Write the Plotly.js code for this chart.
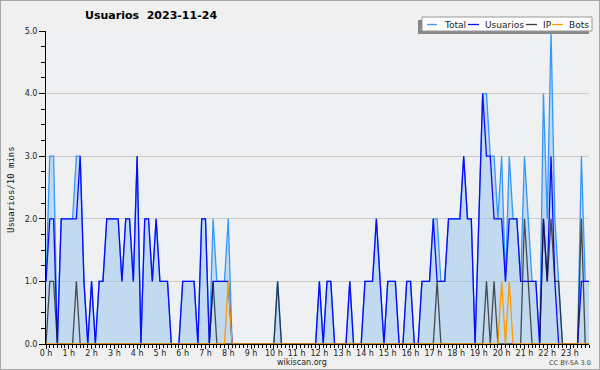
<!DOCTYPE html>
<html><head><meta charset="utf-8">
<script src="https://cdn.plot.ly/plotly-3.0.1.min.js"></script>
<style>html,body{margin:0;padding:0;background:#f0f0f0;}#chart{width:600px;height:370px;}</style>
</head><body><div id="chart"></div>
<script>
const hourLabels = ["0 h","1 h","2 h","3 h","4 h","5 h","6 h","7 h","8 h","9 h","10 h","11 h","12 h","13 h","14 h","15 h","16 h","17 h","18 h","19 h","20 h","21 h","22 h","23 h"];
const seriesNames = ["Total","Usuarios","IP","Bots"];
const usuarios = [1,2,2,0,2,2,2,2,2,3, 1,0,1,0,1,1,2,2,2,2, 1,2,2,1,3,0,2,2,1,2, 1,1,1,0,0,0,1,1,1,1, 0,2,2,0,1,1,1,1,1,0,
  0,0,0,0,0,0,0,0,0,0, 0,0,0,0,0,0,0,0,0,0, 0,0,1,0,1,1,0,0,0,0, 1,0,0,0,1,1,1,2,1,0, 1,1,1,0,0,1,1,0,0,1,
  1,1,2,1,1,1,2,2,2,2, 3,2,2,0,2,4,3,3,2,2, 2,1,2,2,2,1,1,1,1,1, 0,2,1,3,1,0,0,0,0,0, 0,1,1,1];
const ip = [0,1,1,0,0,0,0,0,1,0, 0,0,0,0,0,0,0,0,0,0, 0,0,0,0,0,0,0,0,0,0, 0,0,0,0,0,0,0,0,0,0, 0,0,0,0,1,0,0,0,0,0,
  0,0,0,0,0,0,0,0,0,0, 0,1,0,0,0,0,0,0,0,0, 0,0,0,0,0,0,0,0,0,0, 0,0,0,0,0,0,0,0,0,0, 0,0,0,0,0,0,0,0,0,0,
  0,0,0,1,0,0,0,0,0,0, 0,0,0,0,0,0,1,0,1,0, 0,0,0,0,0,0,2,1,0,0, 0,2,1,2,1,1,0,0,0,0, 0,2,0,0];
const bots = [0,0,0,0,0,0,0,0,0,0, 0,0,0,0,0,0,0,0,0,0, 0,0,0,0,0,0,0,0,0,0, 0,0,0,0,0,0,0,0,0,0, 0,0,0,0,0,0,0,0,1,0,
  0,0,0,0,0,0,0,0,0,0, 0,0,0,0,0,0,0,0,0,0, 0,0,0,0,0,0,0,0,0,0, 0,0,0,0,0,0,0,0,0,0, 0,0,0,0,0,0,0,0,0,0,
  0,0,0,0,0,0,0,0,0,0, 0,0,0,0,0,0,0,0,0,0, 1,0,1,0,0,0,0,0,0,0, 0,0,0,0,0,0,0,0,0,0, 0,0,0,0];
const total = [1,3,3,0,2,2,2,2,3,3, 1,0,1,0,1,1,2,2,2,2, 1,2,2,1,3,0,2,2,1,2, 1,1,1,0,0,0,1,1,1,1, 0,2,2,0,2,1,1,1,2,0,
  0,0,0,0,0,0,0,0,0,0, 0,1,0,0,0,0,0,0,0,0, 0,0,1,0,1,1,0,0,0,0, 1,0,0,0,1,1,1,2,1,0, 1,1,1,0,0,1,1,0,0,1,
  1,1,2,2,1,1,2,2,2,2, 3,2,2,0,2,4,4,3,3,2, 3,1,3,2,2,1,3,2,1,1, 0,4,2,5,2,1,0,0,0,0, 0,3,1,1];
const slots = usuarios.map((_, i) => i);
const hourTicks = hourLabels.map((_, h) => h * 6);

const PX = v => (v - 46) / 543;
const PY = v => (344 - v) / 313;
const W = 1.3;

const traces = [
  {x: slots, y: total, mode: 'lines', line: {color: '#3399ff', width: W}, fill: 'tozeroy', fillcolor: 'rgba(150,195,235,0.5)', name: seriesNames[0]},
  {x: slots, y: usuarios, mode: 'lines', line: {color: '#0a0aff', width: W}, name: seriesNames[1]},
  {x: slots, y: ip, mode: 'lines', line: {color: 'rgba(25,25,25,0.75)', width: W}, name: seriesNames[2]},
  {x: slots, y: bots, mode: 'lines', line: {color: '#ff9900', width: W}, name: seriesNames[3]}
];

const legendCols = ['#3399ff', '#0a0aff', 'rgba(25,25,25,0.85)', '#ff9900'];
const legLine = [[427,437],[468,479],[526,537],[552,563]];
const legText = [443, 484, 542, 568];

const shapes = [
  {type:'rect', xref:'paper', yref:'paper', x0:PX(0), x1:PX(600), y0:PY(370), y1:PY(0), line:{color:'#a8a8a8', width:2}, fillcolor:'rgba(0,0,0,0)'},
  {type:'rect', xref:'paper', yref:'paper', x0:PX(418), x1:PX(589), y0:PY(34), y1:PY(20), line:{width:0}, fillcolor:'#888888'},
  {type:'rect', xref:'paper', yref:'paper', x0:PX(422), x1:PX(592), y0:PY(31), y1:PY(17), line:{color:'#999999', width:1}, fillcolor:'#ffffff'}
];
const annotations = [
  {text:'<b>Usuarios\u00a0\u00a02023-11-24</b>', xref:'paper', yref:'paper', x:PX(151), y:PY(16), showarrow:false, xanchor:'center', yanchor:'middle', font:{family:'DejaVu Sans', size:11, color:'#000'}},
  {text:'Usuarios/10 mins', xref:'paper', yref:'paper', x:PX(11), y:PY(190), showarrow:false, textangle:-90, xanchor:'center', yanchor:'middle', font:{family:'DejaVu Sans Mono', size:9, color:'#111'}},
  {text:'wikiscan.org', xref:'paper', yref:'paper', x:PX(302), y:PY(362), showarrow:false, xanchor:'center', yanchor:'middle', font:{family:'DejaVu Sans', size:8, color:'#222'}, borderpad:0},
  {text:'CC BY-SA 3.0', xref:'paper', yref:'paper', x:PX(592), y:PY(363), showarrow:false, xanchor:'right', yanchor:'middle', font:{family:'DejaVu Sans', size:6.5, color:'#444'}, borderpad:0}
];
seriesNames.forEach((n, i) => {
  shapes.push({type:'line', xref:'paper', yref:'paper', x0:PX(legLine[i][0]), x1:PX(legLine[i][1]), y0:PY(24.5), y1:PY(24.5), line:{color:legendCols[i], width:1.3}});
  annotations.push({text:n, xref:'paper', yref:'paper', x:PX(legText[i]), y:PY(24.5), showarrow:false, xanchor:'left', yanchor:'middle', font:{family:'DejaVu Sans', size:9, color:'#222'}, borderpad:0});
});

const layout = {
  width: 600, height: 370,
  margin: {l:46, r:11, t:31, b:26, pad:0},
  paper_bgcolor: '#f0f0f0', plot_bgcolor: '#eff0f2',
  showlegend: false,
  xaxis: {range:[0,143], tickmode:'array', tickvals:hourTicks, ticktext:hourLabels, ticks:'outside', ticklen:4, tickcolor:'#000', tickwidth:1,
    ticklabelstandoff:-3,
    showline:true, linecolor:'#000', linewidth:1, showgrid:false, zeroline:false, fixedrange:true,
    tickfont:{family:'DejaVu Sans', size:8, color:'#222'},
    minor:{tickmode:'linear', tick0:0, dtick:1, ticks:'outside', ticklen:3, tickcolor:'#000', showgrid:false}},
  yaxis: {range:[0,5], tickmode:'linear', tick0:0, dtick:1, tickformat:'.1f', ticks:'outside', ticklen:6, tickcolor:'#000',
    showline:true, linecolor:'#000', linewidth:1, showgrid:true, gridcolor:'#cccccc', gridwidth:1, zeroline:false, fixedrange:true,
    tickfont:{family:'DejaVu Sans', size:8, color:'#222'},
    minor:{tickmode:'linear', tick0:0, dtick:0.25, ticks:'outside', ticklen:4, tickcolor:'#000', showgrid:false}},
  shapes: shapes,
  annotations: annotations
};
Plotly.newPlot('chart', traces, layout, {staticPlot:true, displayModeBar:false});
</script></body></html>
